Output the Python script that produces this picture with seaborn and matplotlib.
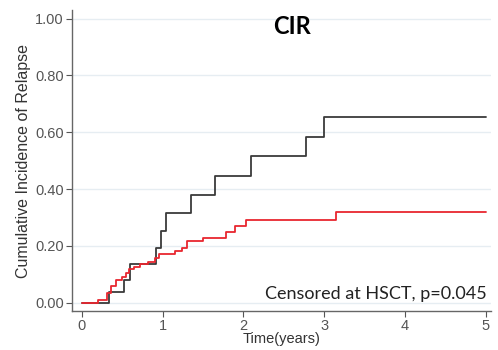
import matplotlib
matplotlib.use("Agg")
import matplotlib.pyplot as plt
import seaborn as sns
import pandas as pd

# Curva negra (grupo 1)
black_t = [0, 0.33, 0.52, 0.59, 0.92, 0.98, 1.04, 1.35, 1.65, 2.10, 2.78, 3.00, 5.00]
black_y = [0, 0.039, 0.079, 0.137, 0.194, 0.252, 0.317, 0.379, 0.446, 0.517, 0.583, 0.654, 0.654]

# Curva roja (grupo 2)
red_t = [0, 0.20, 0.31, 0.36, 0.42, 0.50, 0.54, 0.58, 0.64, 0.72, 0.82, 0.90, 0.96,
         1.03, 1.15, 1.24, 1.30, 1.50, 1.79, 1.90, 2.03, 3.15, 5.00]
red_y = [0, 0.008, 0.035, 0.060, 0.080, 0.090, 0.105, 0.120, 0.127, 0.135, 0.143, 0.157, 0.171,
         0.172, 0.182, 0.194, 0.217, 0.229, 0.250, 0.270, 0.290, 0.319, 0.319]

ytick_vals = [0, 0.2, 0.4, 0.6, 0.8, 1.0]
xtick_vals = [0, 1, 2, 3, 4, 5]

df = pd.concat([
    pd.DataFrame({'t': black_t, 'cir': black_y, 'group': 'A'}),
    pd.DataFrame({'t': red_t, 'cir': red_y, 'group': 'B'}),
])

sns.set_theme(style="white")
plt.rcParams['font.family'] = ['Liberation Sans', 'DejaVu Sans']

fig = plt.figure(figsize=(4.98, 3.5), dpi=100)
ax = fig.add_axes([0.145, 0.111, 0.84, 0.86])

for y in ytick_vals:
    ax.axhline(y, color='#e6edf2', lw=1.0, zorder=0)

sns.lineplot(data=df, x='t', y='cir', hue='group', palette={'A': '#3a3a3a', 'B': '#e8262f'},
             drawstyle='steps-post', linewidth=1.3, legend=False, ax=ax, zorder=3)

ax.set_xlim(-0.12, 5.06)
ax.set_ylim(-0.03, 1.03)
ax.set_xticks(xtick_vals)
ax.set_yticks(ytick_vals)
ax.set_yticklabels([f'{v:.2f}' for v in ytick_vals])
ax.tick_params(axis='both', direction='out', length=4, width=0.8, color='#555555',
               labelsize=10.5, labelcolor='#555555', pad=2, left=True, bottom=True)

for s in ['top', 'right']:
    ax.spines[s].set_visible(False)
for s in ['left', 'bottom']:
    ax.spines[s].set_color('#666666')
    ax.spines[s].set_linewidth(1.0)

ax.set_xlabel('Time(years)', fontsize=10.5, color='#333333', labelpad=-1)
ax.set_ylabel('Cumulative Incidence of Relapse', fontsize=11.5, color='#333333', labelpad=3)

ax.text(0.525, 0.985, 'CIR', transform=ax.transAxes, ha='center', va='top',
        fontsize=17, fontweight='bold', family=['Lato', 'DejaVu Sans'], color='black')
ax.text(0.99, 0.03, 'Censored at HSCT, p=0.045', transform=ax.transAxes, ha='right', va='bottom',
        fontsize=13, family=['Lato', 'DejaVu Sans'], color='#222222')

fig.savefig('out.png', dpi=100)
